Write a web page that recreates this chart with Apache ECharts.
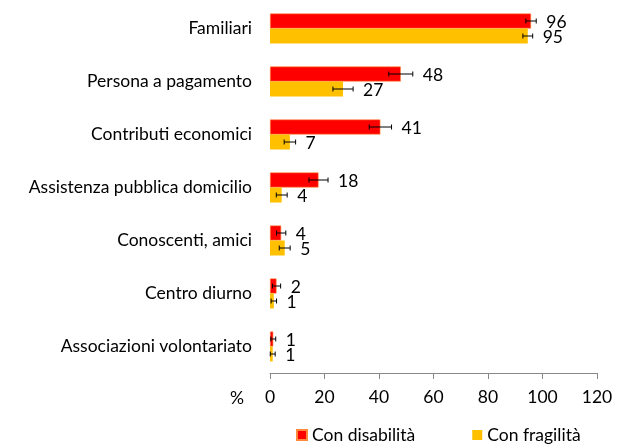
<!DOCTYPE html>
<html>
<head>
<meta charset="utf-8">
<script src="https://cdn.jsdelivr.net/npm/echarts@6/dist/echarts.min.js"></script>
<style>
  html, body { margin: 0; padding: 0; background: #fff; }
  #chart { width: 626px; height: 446px; }
</style>
</head>
<body>
<div id="chart"></div>
<script>
// categories, top to bottom as in the picture
const categories = [
  'Familiari',
  'Persona a pagamento',
  'Contributi economici',
  'Assistenza pubblica domicilio',
  'Conoscenti, amici',
  'Centro diurno',
  'Associazioni volontariato'
];
// percent values (bar length)
const disabilita = [95.8, 48, 40.5, 17.8, 4.1, 2.4, 1.2];
const fragilita = [94.6, 26.8, 7.3, 4.3, 5.4, 1.4, 1.0];
// half width of the error bars
const errDisabilita = [1.9, 4.4, 4.1, 3.5, 1.7, 1.5, 0.9];
const errFragilita = [1.8, 3.7, 2.1, 2.0, 2.0, 1.0, 0.9];
// printed labels
const labDisabilita = [96, 48, 41, 18, 4, 2, 1];
const labFragilita = [95, 27, 7, 4, 5, 1, 1];
const xTicks = [0, 20, 40, 60, 80, 100, 120];

const fontFamily = 'Lato, "Open Sans", sans-serif';
const fontSize = 17.5;
const barH = 15;

// error bar + value label for one series
function errorSeries(name, vals, errs, labs, offset) {
  return {
    type: 'custom',
    name: name + '_err',
    z: 5,
    silent: true,
    data: vals.map((v, i) => [v, i, errs[i], labs[i]]),
    renderItem: function (params, api) {
      const v = api.value(0);
      const cat = api.value(1);
      const e = api.value(2);
      const lo = api.coord([v - e, cat]);
      const hi = api.coord([v + e, cat]);
      const y = lo[1] + offset;
      const cap = 2.5;
      return {
        type: 'group',
        children: [
          { type: 'line', shape: { x1: lo[0], y1: y, x2: hi[0], y2: y }, style: { stroke: '#000', lineWidth: 1 } },
          { type: 'line', shape: { x1: lo[0], y1: y - cap, x2: lo[0], y2: y + cap }, style: { stroke: '#000', lineWidth: 1 } },
          { type: 'line', shape: { x1: hi[0], y1: y - cap, x2: hi[0], y2: y + cap }, style: { stroke: '#000', lineWidth: 1 } },
          {
            type: 'text',
            style: {
              x: hi[0] + 10, y: y + 1,
              text: String(api.value(3)),
              fill: '#000',
              font: fontSize + 'px ' + fontFamily,
              verticalAlign: 'middle', align: 'left'
            }
          }
        ]
      };
    }
  };
}

const chart = echarts.init(document.getElementById('chart'));
chart.setOption({
  animation: false,
  textStyle: { fontFamily: fontFamily },
  grid: { left: 270, right: 29, top: 2, bottom: 73 },
  legend: {
    data: ['Con disabilità', 'Con fragilità'],
    left: 291, top: 421,
    icon: 'rect', itemWidth: 10, itemHeight: 10, itemGap: 57,
    textStyle: { fontSize: fontSize, color: '#000', fontFamily: fontFamily }
  },
  xAxis: {
    type: 'value',
    min: 0, max: 120, interval: 20,
    name: '%',
    nameLocation: 'start',
    nameGap: 26,
    nameTextStyle: { fontSize: fontSize, color: '#000', verticalAlign: 'top', padding: [16, 0, 0, 0] },
    axisLine: { show: true, lineStyle: { color: '#888' } },
    axisTick: { show: true, length: 6, lineStyle: { color: '#888' } },
    axisLabel: { fontSize: fontSize, color: '#000', margin: 15,
      formatter: v => xTicks.includes(v) ? String(v) : '' },
    splitLine: { show: false }
  },
  yAxis: {
    type: 'category',
    data: categories,
    inverse: true,
    axisLine: { show: false },
    axisTick: { show: false },
    axisLabel: { fontSize: fontSize, color: '#000', margin: 18 }
  },
  series: [
    {
      name: 'Con disabilità', type: 'bar', data: disabilita,
      barWidth: barH, barGap: '0%',
      itemStyle: { color: '#ff0000', borderColor: '#ff8a3c', borderWidth: 0.6 }
    },
    {
      name: 'Con fragilità', type: 'bar', data: fragilita,
      barWidth: barH, barGap: '0%',
      itemStyle: { color: '#ffc000' }
    },
    errorSeries('Con disabilità', disabilita, errDisabilita, labDisabilita, -barH / 2),
    errorSeries('Con fragilità', fragilita, errFragilita, labFragilita, barH / 2)
  ]
});
</script>
</body>
</html>
